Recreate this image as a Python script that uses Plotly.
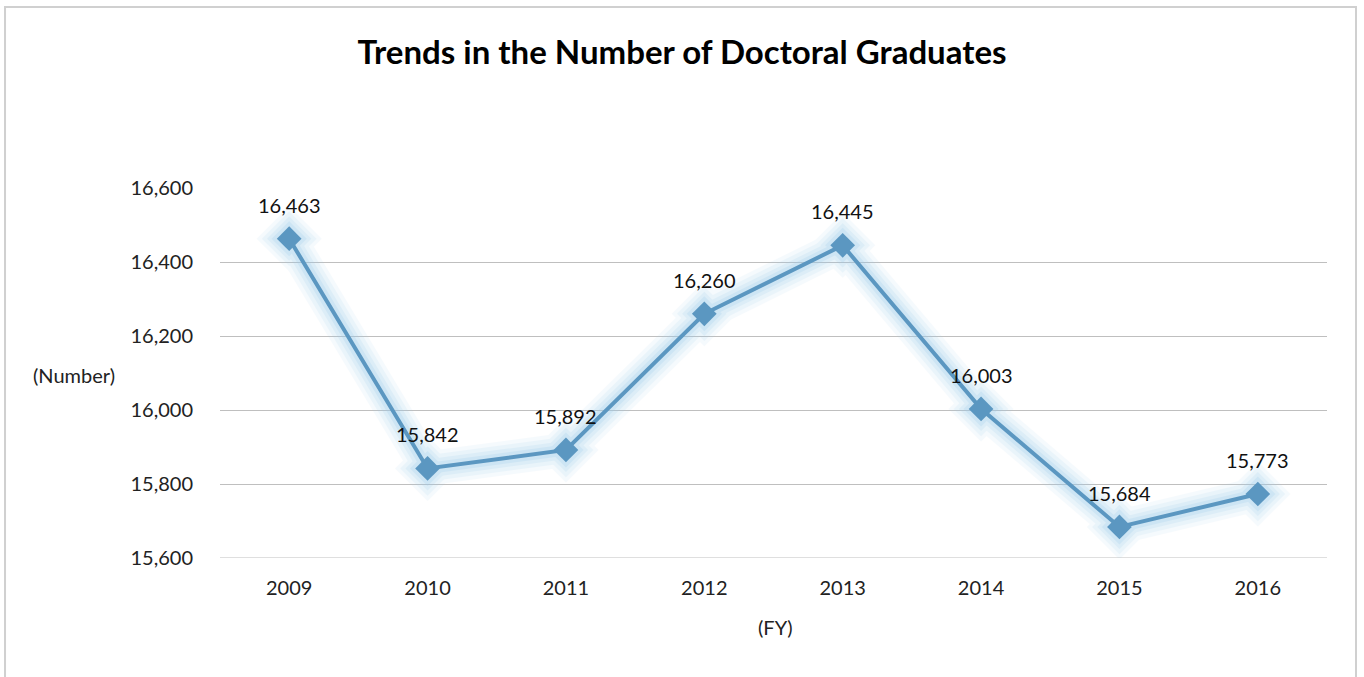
import plotly.graph_objs as go

# Data
years = ['2009', '2010', '2011', '2012', '2013', '2014', '2015', '2016']
graduates = [16463, 15842, 15892, 16260, 16445, 16003, 15684, 15773]
labels = [f'{v:,}' for v in graduates]

FONT = 'Lato, Carlito, Calibri, sans-serif'
LINE = '#5b97c1'
GLOW = '#9ccbeb'

fig = go.Figure()

# Soft glow behind the line (several wide, faint passes)
for w, op in [(34, 0.09), (26, 0.12), (18, 0.16), (11, 0.22)]:
    fig.add_trace(go.Scatter(
        x=years, y=graduates, mode='lines+markers',
        line=dict(color=GLOW, width=w),
        marker=dict(symbol='diamond', size=w + 16, color=GLOW),
        opacity=op, hoverinfo='skip', showlegend=False
    ))

fig.add_trace(go.Scatter(
    x=years, y=graduates, mode='lines+markers',
    line=dict(color=LINE, width=4),
    marker=dict(symbol='diamond', size=19, color=LINE),
    showlegend=False
))

# Value labels above each point (category axis -> position by index)
annotations = [
    dict(x=i, y=v, text=lbl, showarrow=False, yshift=34,
         xanchor='center', yanchor='middle',
         font=dict(family=FONT, size=20, color='#111'))
    for i, (v, lbl) in enumerate(zip(graduates, labels))
]
annotations += [
    dict(text='(Number)', xref='paper', yref='paper',
         x=-0.132, y=0.495, xanchor='center', yanchor='middle',
         showarrow=False, font=dict(size=20, color='#222')),
    dict(text='(FY)', xref='paper', yref='paper',
         x=0.502, y=-0.186, xanchor='center', yanchor='middle',
         showarrow=False, font=dict(size=20, color='#222')),
]

fig.update_layout(
    width=1364, height=677,
    margin=dict(l=220, r=37, t=188, b=119),
    paper_bgcolor='white', plot_bgcolor='white',
    title=dict(text='<b>Trends in the Number of Doctoral Graduates</b>',
               x=0.5, xanchor='center', y=0.923, yanchor='middle',
               font=dict(family=FONT, size=33, color='#000')),
    font=dict(family=FONT, size=20, color='#222'),
    xaxis=dict(type='category', categoryorder='array', categoryarray=years,
               range=[-0.5, len(years) - 0.5],
               showgrid=False, zeroline=False,
               showline=False, ticks='', ticklabelstandoff=16,
               tickfont=dict(size=20)),
    yaxis=dict(range=[15600, 16600], dtick=200, tickformat=',',
               showgrid=True, gridcolor='#bfbfbf', gridwidth=1,
               zeroline=False, showline=False, ticks='',
               ticklabelstandoff=26, tickfont=dict(size=20)),
    annotations=annotations,
    shapes=[
        dict(type='rect', xref='paper', yref='paper',
             x0=-0.1942, x1=1.0262, y0=-0.4, y1=1.489,
             line=dict(color='#d0d0d0', width=2), layer='below'),
        dict(type='line', xref='paper', yref='y',
             x0=0, x1=1, y0=15600, y1=15600,
             line=dict(color='#bfbfbf', width=1), layer='below'),
    ],
)

fig.write_html('out.html', config={'displayModeBar': False},
               post_script="document.body.style.margin='0';")
